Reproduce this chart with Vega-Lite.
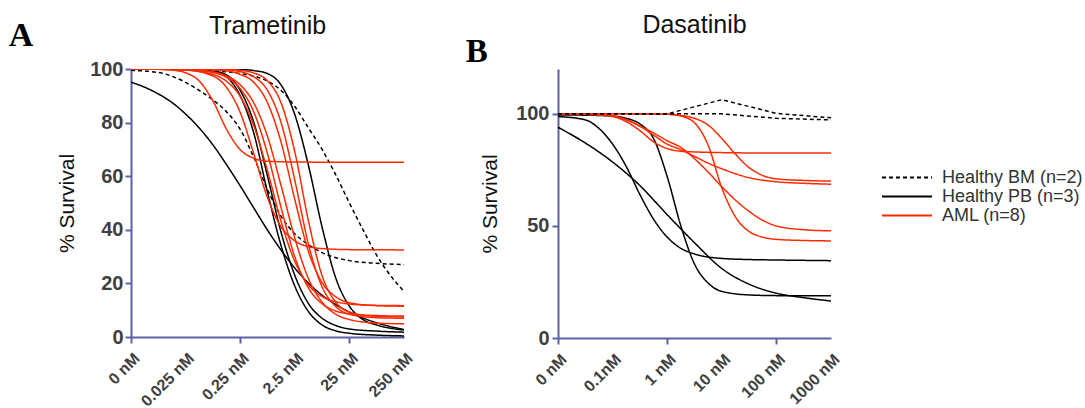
{
"$schema": "https://vega.github.io/schema/vega-lite/v6.json",
"padding": {"left": 8, "top": 13, "right": 0, "bottom": 0},
"autosize": {"type": "pad"},
"background": "white",
"config": {
 "view": {"stroke": null},
 "font": "Liberation Sans",
 "axis": {"domainColor": "#5b63a8", "domainWidth": 2, "tickColor": "#5b63a8", "tickWidth": 2, "tickSize": 6, "grid": false, "labelColor": "#3f3f3f", "labelFontWeight": "bold", "labelFont": "Liberation Sans", "titleFont": "Liberation Sans", "titleFontWeight": "normal", "titleColor": "#111111"},
 "title": {"font": "Liberation Sans", "fontWeight": "normal", "color": "#111111"},
 "legend": {"title": null, "orient": "none", "legendX": 750, "legendY": 100, "symbolType": "stroke", "symbolSize": 2500, "symbolStrokeWidth": 2, "clipHeight": 17, "labelFontSize": 18, "labelFont": "Liberation Sans", "labelColor": "#333333", "labelOffset": 9, "rowPadding": 0, "padding": 0, "labelLimit": 300}
},
"datasets": {
"A": [
{"id":"BM1","group":"Healthy BM (n=2)","x":0,"y":99.5},{"id":"BM1","group":"Healthy BM (n=2)","x":0.5,"y":98.7},{"id":"BM1","group":"Healthy BM (n=2)","x":1,"y":95},{"id":"BM1","group":"Healthy BM (n=2)","x":1.25,"y":92},{"id":"BM1","group":"Healthy BM (n=2)","x":1.5,"y":88.5},{"id":"BM1","group":"Healthy BM (n=2)","x":1.75,"y":84},{"id":"BM1","group":"Healthy BM (n=2)","x":2,"y":77.5},{"id":"BM1","group":"Healthy BM (n=2)","x":2.25,"y":67},{"id":"BM1","group":"Healthy BM (n=2)","x":2.5,"y":55},{"id":"BM1","group":"Healthy BM (n=2)","x":2.75,"y":45},{"id":"BM1","group":"Healthy BM (n=2)","x":3,"y":38.5},{"id":"BM1","group":"Healthy BM (n=2)","x":3.25,"y":34.5},{"id":"BM1","group":"Healthy BM (n=2)","x":3.5,"y":31.5},{"id":"BM1","group":"Healthy BM (n=2)","x":4,"y":28.5},{"id":"BM1","group":"Healthy BM (n=2)","x":4.5,"y":27.5},{"id":"BM1","group":"Healthy BM (n=2)","x":5,"y":27},
{"id":"BM2","group":"Healthy BM (n=2)","x":0,"y":100},{"id":"BM2","group":"Healthy BM (n=2)","x":1,"y":99.8},{"id":"BM2","group":"Healthy BM (n=2)","x":1.5,"y":99.3},{"id":"BM2","group":"Healthy BM (n=2)","x":2,"y":98.3},{"id":"BM2","group":"Healthy BM (n=2)","x":2.25,"y":97.3},{"id":"BM2","group":"Healthy BM (n=2)","x":2.5,"y":95.5},{"id":"BM2","group":"Healthy BM (n=2)","x":2.75,"y":92},{"id":"BM2","group":"Healthy BM (n=2)","x":3,"y":86},{"id":"BM2","group":"Healthy BM (n=2)","x":3.25,"y":78},{"id":"BM2","group":"Healthy BM (n=2)","x":3.5,"y":70},{"id":"BM2","group":"Healthy BM (n=2)","x":3.75,"y":60.5},{"id":"BM2","group":"Healthy BM (n=2)","x":4,"y":50},{"id":"BM2","group":"Healthy BM (n=2)","x":4.25,"y":40},{"id":"BM2","group":"Healthy BM (n=2)","x":4.5,"y":30.5},{"id":"BM2","group":"Healthy BM (n=2)","x":4.75,"y":23},{"id":"BM2","group":"Healthy BM (n=2)","x":5,"y":17},
{"id":"PB1","group":"Healthy PB (n=3)","x":0,"y":95.1},{"id":"PB1","group":"Healthy PB (n=3)","x":0.25,"y":93.2},{"id":"PB1","group":"Healthy PB (n=3)","x":0.5,"y":90.7},{"id":"PB1","group":"Healthy PB (n=3)","x":0.75,"y":87.5},{"id":"PB1","group":"Healthy PB (n=3)","x":1,"y":83.2},{"id":"PB1","group":"Healthy PB (n=3)","x":1.25,"y":78},{"id":"PB1","group":"Healthy PB (n=3)","x":1.5,"y":71.7},{"id":"PB1","group":"Healthy PB (n=3)","x":1.75,"y":64.3},{"id":"PB1","group":"Healthy PB (n=3)","x":2,"y":56.4},{"id":"PB1","group":"Healthy PB (n=3)","x":2.25,"y":48.1},{"id":"PB1","group":"Healthy PB (n=3)","x":2.5,"y":39.9},{"id":"PB1","group":"Healthy PB (n=3)","x":2.75,"y":32.4},{"id":"PB1","group":"Healthy PB (n=3)","x":3,"y":25.7},{"id":"PB1","group":"Healthy PB (n=3)","x":3.25,"y":20.1},{"id":"PB1","group":"Healthy PB (n=3)","x":3.5,"y":15.6},{"id":"PB1","group":"Healthy PB (n=3)","x":3.75,"y":12.1},{"id":"PB1","group":"Healthy PB (n=3)","x":4,"y":9.3},{"id":"PB1","group":"Healthy PB (n=3)","x":4.5,"y":5.3},{"id":"PB1","group":"Healthy PB (n=3)","x":5,"y":2.8},
{"id":"PB2a","group":"Healthy PB (n=3)","x":0,"y":100},{"id":"PB2a","group":"Healthy PB (n=3)","x":1,"y":99.8},{"id":"PB2a","group":"Healthy PB (n=3)","x":1.5,"y":99},{"id":"PB2a","group":"Healthy PB (n=3)","x":1.75,"y":97},{"id":"PB2a","group":"Healthy PB (n=3)","x":2,"y":90},{"id":"PB2a","group":"Healthy PB (n=3)","x":2.25,"y":76},{"id":"PB2a","group":"Healthy PB (n=3)","x":2.5,"y":54},{"id":"PB2a","group":"Healthy PB (n=3)","x":2.75,"y":34},{"id":"PB2a","group":"Healthy PB (n=3)","x":3,"y":19},{"id":"PB2a","group":"Healthy PB (n=3)","x":3.25,"y":9.5},{"id":"PB2a","group":"Healthy PB (n=3)","x":3.5,"y":4.5},{"id":"PB2a","group":"Healthy PB (n=3)","x":3.75,"y":2.3},{"id":"PB2a","group":"Healthy PB (n=3)","x":4,"y":1.4},{"id":"PB2a","group":"Healthy PB (n=3)","x":4.5,"y":0.7},{"id":"PB2a","group":"Healthy PB (n=3)","x":5,"y":0.4},
{"id":"PB2b","group":"Healthy PB (n=3)","x":0,"y":100},{"id":"PB2b","group":"Healthy PB (n=3)","x":1,"y":99.8},{"id":"PB2b","group":"Healthy PB (n=3)","x":1.5,"y":99.2},{"id":"PB2b","group":"Healthy PB (n=3)","x":1.75,"y":97.8},{"id":"PB2b","group":"Healthy PB (n=3)","x":2,"y":92},{"id":"PB2b","group":"Healthy PB (n=3)","x":2.25,"y":80},{"id":"PB2b","group":"Healthy PB (n=3)","x":2.5,"y":60},{"id":"PB2b","group":"Healthy PB (n=3)","x":2.75,"y":39},{"id":"PB2b","group":"Healthy PB (n=3)","x":3,"y":23},{"id":"PB2b","group":"Healthy PB (n=3)","x":3.25,"y":12.5},{"id":"PB2b","group":"Healthy PB (n=3)","x":3.5,"y":7},{"id":"PB2b","group":"Healthy PB (n=3)","x":3.75,"y":4.3},{"id":"PB2b","group":"Healthy PB (n=3)","x":4,"y":3},{"id":"PB2b","group":"Healthy PB (n=3)","x":4.5,"y":2.2},{"id":"PB2b","group":"Healthy PB (n=3)","x":5,"y":1.8},
{"id":"PB3","group":"Healthy PB (n=3)","x":0,"y":100},{"id":"PB3","group":"Healthy PB (n=3)","x":1,"y":100},{"id":"PB3","group":"Healthy PB (n=3)","x":2,"y":99.8},{"id":"PB3","group":"Healthy PB (n=3)","x":2.25,"y":99.4},{"id":"PB3","group":"Healthy PB (n=3)","x":2.5,"y":98.3},{"id":"PB3","group":"Healthy PB (n=3)","x":2.75,"y":94},{"id":"PB3","group":"Healthy PB (n=3)","x":3,"y":83},{"id":"PB3","group":"Healthy PB (n=3)","x":3.25,"y":64},{"id":"PB3","group":"Healthy PB (n=3)","x":3.5,"y":41},{"id":"PB3","group":"Healthy PB (n=3)","x":3.75,"y":22},{"id":"PB3","group":"Healthy PB (n=3)","x":4,"y":11.5},{"id":"PB3","group":"Healthy PB (n=3)","x":4.25,"y":6.5},{"id":"PB3","group":"Healthy PB (n=3)","x":4.5,"y":4.5},{"id":"PB3","group":"Healthy PB (n=3)","x":5,"y":2.6},
{"id":"R1","group":"AML (n=8)","x":0,"y":100},{"id":"R1","group":"AML (n=8)","x":0.5,"y":99.9},{"id":"R1","group":"AML (n=8)","x":0.75,"y":99.6},{"id":"R1","group":"AML (n=8)","x":1,"y":98.6},{"id":"R1","group":"AML (n=8)","x":1.25,"y":95.5},{"id":"R1","group":"AML (n=8)","x":1.5,"y":88.1},{"id":"R1","group":"AML (n=8)","x":1.75,"y":77.5},{"id":"R1","group":"AML (n=8)","x":2,"y":69.9},{"id":"R1","group":"AML (n=8)","x":2.25,"y":66.7},{"id":"R1","group":"AML (n=8)","x":2.5,"y":65.6},{"id":"R1","group":"AML (n=8)","x":3,"y":65.3},{"id":"R1","group":"AML (n=8)","x":4,"y":65.2},{"id":"R1","group":"AML (n=8)","x":5,"y":65.2},
{"id":"R2","group":"AML (n=8)","x":0,"y":100},{"id":"R2","group":"AML (n=8)","x":1,"y":99.6},{"id":"R2","group":"AML (n=8)","x":1.5,"y":97.4},{"id":"R2","group":"AML (n=8)","x":1.75,"y":93.1},{"id":"R2","group":"AML (n=8)","x":2,"y":83.8},{"id":"R2","group":"AML (n=8)","x":2.25,"y":68.3},{"id":"R2","group":"AML (n=8)","x":2.5,"y":52},{"id":"R2","group":"AML (n=8)","x":2.75,"y":41.1},{"id":"R2","group":"AML (n=8)","x":3,"y":35.9},{"id":"R2","group":"AML (n=8)","x":3.25,"y":33.7},{"id":"R2","group":"AML (n=8)","x":3.5,"y":33},{"id":"R2","group":"AML (n=8)","x":4,"y":32.6},{"id":"R2","group":"AML (n=8)","x":5,"y":32.5},
{"id":"R3","group":"AML (n=8)","x":0,"y":100},{"id":"R3","group":"AML (n=8)","x":0.5,"y":99.9},{"id":"R3","group":"AML (n=8)","x":1,"y":99.6},{"id":"R3","group":"AML (n=8)","x":1.5,"y":98},{"id":"R3","group":"AML (n=8)","x":1.75,"y":95.4},{"id":"R3","group":"AML (n=8)","x":2,"y":89.8},{"id":"R3","group":"AML (n=8)","x":2.25,"y":78.8},{"id":"R3","group":"AML (n=8)","x":2.5,"y":62},{"id":"R3","group":"AML (n=8)","x":2.75,"y":43},{"id":"R3","group":"AML (n=8)","x":3,"y":28.2},{"id":"R3","group":"AML (n=8)","x":3.25,"y":19.4},{"id":"R3","group":"AML (n=8)","x":3.5,"y":15.1},{"id":"R3","group":"AML (n=8)","x":3.75,"y":13.2},{"id":"R3","group":"AML (n=8)","x":4,"y":12.3},{"id":"R3","group":"AML (n=8)","x":4.5,"y":11.8},{"id":"R3","group":"AML (n=8)","x":5,"y":11.7},
{"id":"R4","group":"AML (n=8)","x":0,"y":100},{"id":"R4","group":"AML (n=8)","x":1,"y":99.8},{"id":"R4","group":"AML (n=8)","x":1.5,"y":98.7},{"id":"R4","group":"AML (n=8)","x":1.75,"y":96.9},{"id":"R4","group":"AML (n=8)","x":2,"y":92.7},{"id":"R4","group":"AML (n=8)","x":2.25,"y":83.9},{"id":"R4","group":"AML (n=8)","x":2.5,"y":68.4},{"id":"R4","group":"AML (n=8)","x":2.75,"y":48.2},{"id":"R4","group":"AML (n=8)","x":3,"y":29.9},{"id":"R4","group":"AML (n=8)","x":3.25,"y":18.3},{"id":"R4","group":"AML (n=8)","x":3.5,"y":12.4},{"id":"R4","group":"AML (n=8)","x":3.75,"y":9.7},{"id":"R4","group":"AML (n=8)","x":4,"y":8.6},{"id":"R4","group":"AML (n=8)","x":4.5,"y":8},{"id":"R4","group":"AML (n=8)","x":5,"y":7.8},
{"id":"R5","group":"AML (n=8)","x":0,"y":100},{"id":"R5","group":"AML (n=8)","x":1,"y":99.8},{"id":"R5","group":"AML (n=8)","x":1.5,"y":98.9},{"id":"R5","group":"AML (n=8)","x":1.75,"y":97.4},{"id":"R5","group":"AML (n=8)","x":2,"y":94.1},{"id":"R5","group":"AML (n=8)","x":2.25,"y":87.3},{"id":"R5","group":"AML (n=8)","x":2.5,"y":74.8},{"id":"R5","group":"AML (n=8)","x":2.75,"y":56.4},{"id":"R5","group":"AML (n=8)","x":3,"y":36.9},{"id":"R5","group":"AML (n=8)","x":3.25,"y":21.8},{"id":"R5","group":"AML (n=8)","x":3.5,"y":13},{"id":"R5","group":"AML (n=8)","x":3.75,"y":8.5},{"id":"R5","group":"AML (n=8)","x":4,"y":6.5},{"id":"R5","group":"AML (n=8)","x":4.5,"y":5.2},{"id":"R5","group":"AML (n=8)","x":5,"y":4.9},
{"id":"R6","group":"AML (n=8)","x":0,"y":100},{"id":"R6","group":"AML (n=8)","x":1,"y":100},{"id":"R6","group":"AML (n=8)","x":1.5,"y":99.7},{"id":"R6","group":"AML (n=8)","x":1.75,"y":99.3},{"id":"R6","group":"AML (n=8)","x":2,"y":98},{"id":"R6","group":"AML (n=8)","x":2.25,"y":95},{"id":"R6","group":"AML (n=8)","x":2.5,"y":87.4},{"id":"R6","group":"AML (n=8)","x":2.75,"y":72.6},{"id":"R6","group":"AML (n=8)","x":3,"y":51.3},{"id":"R6","group":"AML (n=8)","x":3.25,"y":31.9},{"id":"R6","group":"AML (n=8)","x":3.5,"y":20.3},{"id":"R6","group":"AML (n=8)","x":3.75,"y":15},{"id":"R6","group":"AML (n=8)","x":4,"y":12.8},{"id":"R6","group":"AML (n=8)","x":4.5,"y":11.7},{"id":"R6","group":"AML (n=8)","x":5,"y":11.5},
{"id":"R7","group":"AML (n=8)","x":0,"y":100},{"id":"R7","group":"AML (n=8)","x":1,"y":100},{"id":"R7","group":"AML (n=8)","x":1.5,"y":99.9},{"id":"R7","group":"AML (n=8)","x":1.75,"y":99.7},{"id":"R7","group":"AML (n=8)","x":2,"y":99},{"id":"R7","group":"AML (n=8)","x":2.25,"y":97.1},{"id":"R7","group":"AML (n=8)","x":2.5,"y":92},{"id":"R7","group":"AML (n=8)","x":2.75,"y":79.9},{"id":"R7","group":"AML (n=8)","x":3,"y":58.5},{"id":"R7","group":"AML (n=8)","x":3.25,"y":34.6},{"id":"R7","group":"AML (n=8)","x":3.5,"y":18.7},{"id":"R7","group":"AML (n=8)","x":3.75,"y":11.4},{"id":"R7","group":"AML (n=8)","x":4,"y":8.5},{"id":"R7","group":"AML (n=8)","x":4.5,"y":7.2},{"id":"R7","group":"AML (n=8)","x":5,"y":7},
{"id":"R8","group":"AML (n=8)","x":0,"y":100},{"id":"R8","group":"AML (n=8)","x":1,"y":100},{"id":"R8","group":"AML (n=8)","x":1.75,"y":99.9},{"id":"R8","group":"AML (n=8)","x":2,"y":99.5},{"id":"R8","group":"AML (n=8)","x":2.25,"y":98.5},{"id":"R8","group":"AML (n=8)","x":2.5,"y":95.6},{"id":"R8","group":"AML (n=8)","x":2.75,"y":87.3},{"id":"R8","group":"AML (n=8)","x":3,"y":69.1},{"id":"R8","group":"AML (n=8)","x":3.25,"y":43.3},{"id":"R8","group":"AML (n=8)","x":3.5,"y":22.9},{"id":"R8","group":"AML (n=8)","x":3.75,"y":13},{"id":"R8","group":"AML (n=8)","x":4,"y":9.3},{"id":"R8","group":"AML (n=8)","x":4.5,"y":7.7},{"id":"R8","group":"AML (n=8)","x":5,"y":7.5}
],
"B": [
{"id":"BM1","group":"Healthy BM (n=2)","x":0,"y":100},{"id":"BM1","group":"Healthy BM (n=2)","x":1,"y":100},{"id":"BM1","group":"Healthy BM (n=2)","x":2,"y":100},{"id":"BM1","group":"Healthy BM (n=2)","x":3,"y":106.3},{"id":"BM1","group":"Healthy BM (n=2)","x":4,"y":100.2},{"id":"BM1","group":"Healthy BM (n=2)","x":5,"y":98.2},
{"id":"BM2","group":"Healthy BM (n=2)","x":0,"y":100},{"id":"BM2","group":"Healthy BM (n=2)","x":1,"y":100},{"id":"BM2","group":"Healthy BM (n=2)","x":2,"y":100},{"id":"BM2","group":"Healthy BM (n=2)","x":3,"y":100},{"id":"BM2","group":"Healthy BM (n=2)","x":4,"y":98},{"id":"BM2","group":"Healthy BM (n=2)","x":5,"y":97.3},
{"id":"PB1","group":"Healthy PB (n=3)","x":0,"y":94},{"id":"PB1","group":"Healthy PB (n=3)","x":0.5,"y":87},{"id":"PB1","group":"Healthy PB (n=3)","x":1,"y":78.5},{"id":"PB1","group":"Healthy PB (n=3)","x":1.5,"y":68},{"id":"PB1","group":"Healthy PB (n=3)","x":2,"y":55},{"id":"PB1","group":"Healthy PB (n=3)","x":2.5,"y":42.5},{"id":"PB1","group":"Healthy PB (n=3)","x":3,"y":31},{"id":"PB1","group":"Healthy PB (n=3)","x":3.5,"y":24},{"id":"PB1","group":"Healthy PB (n=3)","x":4,"y":20},{"id":"PB1","group":"Healthy PB (n=3)","x":4.5,"y":18},{"id":"PB1","group":"Healthy PB (n=3)","x":5,"y":16.5},
{"id":"PB2","group":"Healthy PB (n=3)","x":0,"y":98.8},{"id":"PB2","group":"Healthy PB (n=3)","x":0.5,"y":97.3},{"id":"PB2","group":"Healthy PB (n=3)","x":0.75,"y":93.5},{"id":"PB2","group":"Healthy PB (n=3)","x":1,"y":86.5},{"id":"PB2","group":"Healthy PB (n=3)","x":1.25,"y":76.5},{"id":"PB2","group":"Healthy PB (n=3)","x":1.5,"y":64},{"id":"PB2","group":"Healthy PB (n=3)","x":1.75,"y":53},{"id":"PB2","group":"Healthy PB (n=3)","x":2,"y":45},{"id":"PB2","group":"Healthy PB (n=3)","x":2.25,"y":40},{"id":"PB2","group":"Healthy PB (n=3)","x":2.5,"y":37.5},{"id":"PB2","group":"Healthy PB (n=3)","x":3,"y":35.5},{"id":"PB2","group":"Healthy PB (n=3)","x":3.5,"y":35},{"id":"PB2","group":"Healthy PB (n=3)","x":4,"y":34.8},{"id":"PB2","group":"Healthy PB (n=3)","x":5,"y":34.5},
{"id":"PB3","group":"Healthy PB (n=3)","x":0,"y":99.5},{"id":"PB3","group":"Healthy PB (n=3)","x":0.5,"y":99.4},{"id":"PB3","group":"Healthy PB (n=3)","x":1,"y":99},{"id":"PB3","group":"Healthy PB (n=3)","x":1.25,"y":98},{"id":"PB3","group":"Healthy PB (n=3)","x":1.5,"y":95.5},{"id":"PB3","group":"Healthy PB (n=3)","x":1.75,"y":89},{"id":"PB3","group":"Healthy PB (n=3)","x":2,"y":72},{"id":"PB3","group":"Healthy PB (n=3)","x":2.25,"y":50},{"id":"PB3","group":"Healthy PB (n=3)","x":2.5,"y":33},{"id":"PB3","group":"Healthy PB (n=3)","x":2.75,"y":24.5},{"id":"PB3","group":"Healthy PB (n=3)","x":3,"y":20.8},{"id":"PB3","group":"Healthy PB (n=3)","x":3.5,"y":19.2},{"id":"PB3","group":"Healthy PB (n=3)","x":4,"y":18.9},{"id":"PB3","group":"Healthy PB (n=3)","x":5,"y":18.8},
{"id":"R1","group":"AML (n=8)","x":0,"y":100},{"id":"R1","group":"AML (n=8)","x":0.5,"y":99.8},{"id":"R1","group":"AML (n=8)","x":1,"y":98.8},{"id":"R1","group":"AML (n=8)","x":1.25,"y":96.5},{"id":"R1","group":"AML (n=8)","x":1.5,"y":92.5},{"id":"R1","group":"AML (n=8)","x":1.75,"y":87.5},{"id":"R1","group":"AML (n=8)","x":2,"y":84.5},{"id":"R1","group":"AML (n=8)","x":2.25,"y":83.3},{"id":"R1","group":"AML (n=8)","x":2.5,"y":83},{"id":"R1","group":"AML (n=8)","x":3,"y":82.7},{"id":"R1","group":"AML (n=8)","x":4,"y":82.5},{"id":"R1","group":"AML (n=8)","x":5,"y":82.5},
{"id":"R2","group":"AML (n=8)","x":0,"y":100},{"id":"R2","group":"AML (n=8)","x":1,"y":100},{"id":"R2","group":"AML (n=8)","x":2,"y":99.8},{"id":"R2","group":"AML (n=8)","x":2.25,"y":99.3},{"id":"R2","group":"AML (n=8)","x":2.5,"y":98},{"id":"R2","group":"AML (n=8)","x":2.75,"y":95},{"id":"R2","group":"AML (n=8)","x":3,"y":89},{"id":"R2","group":"AML (n=8)","x":3.25,"y":82},{"id":"R2","group":"AML (n=8)","x":3.5,"y":76},{"id":"R2","group":"AML (n=8)","x":3.75,"y":72.5},{"id":"R2","group":"AML (n=8)","x":4,"y":71},{"id":"R2","group":"AML (n=8)","x":4.5,"y":70.3},{"id":"R2","group":"AML (n=8)","x":5,"y":70},
{"id":"R3","group":"AML (n=8)","x":0,"y":100},{"id":"R3","group":"AML (n=8)","x":0.5,"y":99.8},{"id":"R3","group":"AML (n=8)","x":1,"y":99},{"id":"R3","group":"AML (n=8)","x":1.25,"y":97.5},{"id":"R3","group":"AML (n=8)","x":1.5,"y":94.5},{"id":"R3","group":"AML (n=8)","x":1.75,"y":90.5},{"id":"R3","group":"AML (n=8)","x":2,"y":86.5},{"id":"R3","group":"AML (n=8)","x":2.25,"y":84},{"id":"R3","group":"AML (n=8)","x":2.5,"y":81},{"id":"R3","group":"AML (n=8)","x":2.75,"y":78},{"id":"R3","group":"AML (n=8)","x":3,"y":75.5},{"id":"R3","group":"AML (n=8)","x":3.5,"y":71.5},{"id":"R3","group":"AML (n=8)","x":4,"y":69.7},{"id":"R3","group":"AML (n=8)","x":4.5,"y":69},{"id":"R3","group":"AML (n=8)","x":5,"y":68.6},
{"id":"R4","group":"AML (n=8)","x":0,"y":100},{"id":"R4","group":"AML (n=8)","x":0.5,"y":99.8},{"id":"R4","group":"AML (n=8)","x":1,"y":99},{"id":"R4","group":"AML (n=8)","x":1.25,"y":97.3},{"id":"R4","group":"AML (n=8)","x":1.5,"y":94.5},{"id":"R4","group":"AML (n=8)","x":1.75,"y":91.5},{"id":"R4","group":"AML (n=8)","x":2,"y":88},{"id":"R4","group":"AML (n=8)","x":2.25,"y":85},{"id":"R4","group":"AML (n=8)","x":2.5,"y":80},{"id":"R4","group":"AML (n=8)","x":2.75,"y":74},{"id":"R4","group":"AML (n=8)","x":3,"y":67.5},{"id":"R4","group":"AML (n=8)","x":3.25,"y":61.5},{"id":"R4","group":"AML (n=8)","x":3.5,"y":56.5},{"id":"R4","group":"AML (n=8)","x":3.75,"y":52.5},{"id":"R4","group":"AML (n=8)","x":4,"y":50},{"id":"R4","group":"AML (n=8)","x":4.5,"y":48.3},{"id":"R4","group":"AML (n=8)","x":5,"y":47.8},
{"id":"R5","group":"AML (n=8)","x":0,"y":100},{"id":"R5","group":"AML (n=8)","x":1,"y":100},{"id":"R5","group":"AML (n=8)","x":2,"y":99.8},{"id":"R5","group":"AML (n=8)","x":2.25,"y":99},{"id":"R5","group":"AML (n=8)","x":2.5,"y":96},{"id":"R5","group":"AML (n=8)","x":2.75,"y":86},{"id":"R5","group":"AML (n=8)","x":3,"y":67},{"id":"R5","group":"AML (n=8)","x":3.25,"y":54},{"id":"R5","group":"AML (n=8)","x":3.5,"y":47.5},{"id":"R5","group":"AML (n=8)","x":3.75,"y":45},{"id":"R5","group":"AML (n=8)","x":4,"y":44},{"id":"R5","group":"AML (n=8)","x":4.5,"y":43.5},{"id":"R5","group":"AML (n=8)","x":5,"y":43.3}
]
},
"spacing": 49,
"hconcat": [
 {
  "title": {"text": "A", "font": "Liberation Serif", "fontSize": 34, "fontWeight": "bold", "color": "#000000", "anchor": "start", "frame": "bounds", "offset": 0, "dx": -48, "dy": 39},
  "hconcat": [
   {
    "width": 273, "height": 268,
    "title": {"text": "Trametinib", "fontSize": 25, "offset": 20, "frame": "group", "anchor": "middle"},
    "data": {"name": "A"},
    "mark": {"type": "line", "interpolate": "monotone", "strokeWidth": 1.5, "clip": true},
    "encoding": {
     "x": {"field": "x", "type": "quantitative", "scale": {"domain": [0, 5], "nice": false},
       "axis": {"values": [0,1,2,3,4,5], "title": null, "labelExpr": "['0 nM','0.025 nM','0.25 nM','2.5 nM','25 nM','250 nM'][datum.value]", "labelAngle": -45, "labelAlign": "right", "labelBaseline": "top", "labelFontSize": 16, "labelPadding": 7, "labelOverlap": false, "labelFlush": false, "labelBound": false, "tickOpacity": {"condition": {"test": "datum.value == 1 || datum.value == 3 || datum.value == 5", "value": 0}, "value": 1}}},
     "y": {"field": "y", "type": "quantitative", "scale": {"domain": [0, 100], "nice": false},
       "axis": {"values": [0,20,40,60,80,100], "title": "% Survival", "titleFontSize": 21, "titlePadding": 12, "labelFontSize": 20, "labelPadding": 2}},
     "detail": {"field": "id"},
     "color": {"field": "group", "type": "nominal", "scale": {"domain": ["Healthy BM (n=2)", "Healthy PB (n=3)", "AML (n=8)"], "range": ["#000000", "#000000", "#ff2a00"]}},
     "strokeDash": {"field": "group", "type": "nominal", "scale": {"domain": ["Healthy BM (n=2)", "Healthy PB (n=3)", "AML (n=8)"], "range": [[4, 3], [1, 0], [1, 0]]}}
    }
   }
  ]
 },
 {
  "title": {"text": "B", "font": "Liberation Serif", "fontSize": 33, "fontWeight": "bold", "color": "#000000", "anchor": "start", "frame": "bounds", "offset": 0, "dx": -14, "dy": 56},
  "hconcat": [
   {
    "width": 273, "height": 269,
    "title": {"text": "Dasatinib", "fontSize": 25, "offset": 31, "frame": "group", "anchor": "middle"},
    "data": {"name": "B"},
    "encoding": {
     "x": {"field": "x", "type": "quantitative", "scale": {"domain": [0, 5], "nice": false},
       "axis": {"values": [0,1,2,3,4,5], "title": null, "labelExpr": "['0 nM','0.1nM','1 nM','10 nM','100 nM','1000 nM'][datum.value]", "labelAngle": -45, "labelAlign": "right", "labelBaseline": "top", "labelFontSize": 16, "labelPadding": 7, "labelOverlap": false, "labelFlush": false, "labelBound": false, "tickOpacity": {"condition": {"test": "datum.value == 1 || datum.value == 3 || datum.value == 5", "value": 0}, "value": 1}}},
     "y": {"field": "y", "type": "quantitative", "scale": {"domain": [0, 120], "nice": false},
       "axis": {"values": [0,50,100], "title": "% Survival", "titleFontSize": 21, "titlePadding": 15, "labelFontSize": 20, "labelPadding": 3}},
     "detail": {"field": "id"},
     "color": {"field": "group", "type": "nominal", "scale": {"domain": ["Healthy BM (n=2)", "Healthy PB (n=3)", "AML (n=8)"], "range": ["#000000", "#000000", "#ff2a00"]}},
     "strokeDash": {"field": "group", "type": "nominal", "scale": {"domain": ["Healthy BM (n=2)", "Healthy PB (n=3)", "AML (n=8)"], "range": [[4, 3], [1, 0], [1, 0]]}}
    },
    "layer": [
     {"transform": [{"filter": "datum.group != 'Healthy BM (n=2)'"}], "mark": {"type": "line", "interpolate": "monotone", "strokeWidth": 1.5, "clip": true}},
     {"transform": [{"filter": "datum.group == 'Healthy BM (n=2)'"}], "mark": {"type": "line", "interpolate": "linear", "strokeWidth": 1.5, "clip": true}}
    ]
   }
  ]
 }
]
}
